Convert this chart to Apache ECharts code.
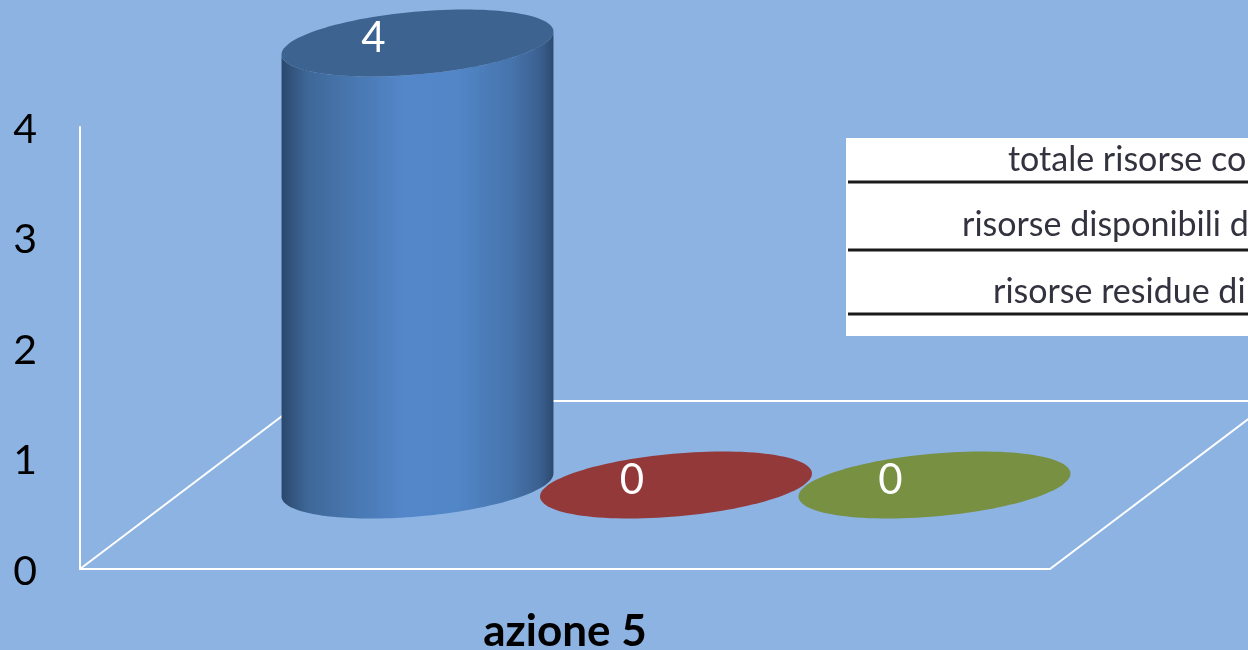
<!DOCTYPE html>
<html>
<head>
<meta charset="utf-8">
<script src="https://cdn.jsdelivr.net/npm/echarts@6/dist/echarts.min.js"></script>
<style>
html, body { margin: 0; padding: 0; background: #8db3e2; overflow: hidden; }
#main { width: 1248px; height: 650px; }
</style>
</head>
<body>
<div id="main"></div>
<script>
var categories = ['azione 5'];
var yTicks = [0, 1, 2, 3, 4];
var seriesNames = ['totale risorse co', 'risorse disponibili d', 'risorse residue di'];
var valuesA = [4];
var valuesB = [0];
var valuesC = [0];
var seriesValues = [valuesA, valuesB, valuesC];
var topColors = ['#3d6391', '#93393a', '#779042'];

var font = 'Lato, "Open Sans", sans-serif';
var depth = [222, -168]; // floor depth in pixels

function ellipsePts(cx, cy, a, b, rot, from, to, n) {
    var pts = [];
    for (var i = 0; i <= n; i++) {
        var t = from + (to - from) * i / n;
        pts.push([
            cx + a * Math.cos(t) * Math.cos(rot) + b * Math.sin(t) * Math.sin(rot),
            cy - a * Math.cos(t) * Math.sin(rot) + b * Math.sin(t) * Math.cos(rot)
        ]);
    }
    return pts;
}

function renderCylinder(params, api) {
    var idx = params.seriesIndex - 1;
    var w = api.size([1, 0])[0];
    var top = api.coord([api.value(0), api.value(1)]);
    var base = api.coord([api.value(0), 0]);
    // bars sit halfway back on the floor
    var cx = top[0] + (idx - 1) * w * 0.2665 + depth[0] / 2;
    var cyTop = top[1] + depth[1] / 2;
    var cyBase = base[1] + depth[1] / 2;
    var a = w * 0.1407, b = a * 0.23, rot = 5.1 * Math.PI / 180;
    var children = [];

    if (api.value(1) > 0) {
        var tR = Math.atan2(b * Math.sin(rot), a * Math.cos(rot));
        var bottom = ellipsePts(cx, cyBase, a, b, rot, tR, tR + Math.PI, 80);
        var upper = ellipsePts(cx, cyTop, a, b, rot, tR + Math.PI, tR, 80);
        children.push({
            type: 'polygon',
            shape: { points: bottom.concat(upper) },
            style: {
                fill: new echarts.graphic.LinearGradient(0, 0, 1, 0, [
                    { offset: 0, color: '#2b486c' },
                    { offset: 0.1, color: '#3f6899' },
                    { offset: 0.3, color: '#4a7ab5' },
                    { offset: 0.45, color: '#5487ca' },
                    { offset: 0.65, color: '#5186c7' },
                    { offset: 0.85, color: '#4673ab' },
                    { offset: 0.95, color: '#3b6090' },
                    { offset: 1, color: '#2c4a6f' }
                ])
            }
        });
    }
    children.push({
        type: 'polygon',
        shape: { points: ellipsePts(cx, cyTop, a, b, rot, 0, Math.PI * 2, 120) },
        style: { fill: topColors[idx] }
    });
    children.push({
        type: 'text',
        style: {
            text: String(api.value(1)),
            x: cx - 44,
            y: cyTop - 5,
            fill: '#fff',
            fontFamily: font,
            fontSize: 42,
            align: 'center',
            verticalAlign: 'middle'
        }
    });
    return { type: 'group', children: children };
}

function renderFloor(params, api) {
    var o = api.coord([api.value(0), 0]);
    var w = api.size([1, 0])[0];
    var x0 = o[0] - w / 2, x1 = o[0] + w / 2, y = o[1];
    var style = { stroke: '#fff', lineWidth: 2, fill: null };
    function seg(x1a, y1a, x2a, y2a) {
        return { type: 'line', shape: { x1: x1a, y1: y1a, x2: x2a, y2: y2a }, style: style };
    }
    return {
        type: 'group',
        children: [
            seg(x0, y, x0 + depth[0], y + depth[1]),
            seg(x1, y, x1 + depth[0], y + depth[1]),
            seg(x0 + depth[0], y + depth[1], x1 + depth[0], y + depth[1])
        ]
    };
}

var series = [{
    type: 'custom',
    name: 'floor',
    renderItem: renderFloor,
    clip: false,
    silent: true,
    data: categories.map(function (c) { return [c, 0]; }),
    z: 1
}];
seriesNames.forEach(function (name, i) {
    series.push({
        type: 'custom',
        name: name,
        renderItem: renderCylinder,
        clip: false,
        data: categories.map(function (c, j) { return [c, seriesValues[i][j]]; }),
        encode: { x: 0, y: 1 },
        z: 2 + i
    });
});

// legend box runs off the right edge of the picture, as in the original
var legendLines = [182, 250, 314];
var legendText = [160, 225, 292];
var legendLeft = [1008, 962, 993];
var legendGraphic = [{
    type: 'rect',
    shape: { x: 846, y: 138, width: 402, height: 198 },
    style: { fill: '#fff' },
    z: 10
}];
seriesNames.forEach(function (name, i) {
    legendGraphic.push({
        type: 'line',
        shape: { x1: 848, y1: legendLines[i], x2: 1248, y2: legendLines[i] },
        style: { stroke: '#1a1a1a', lineWidth: 3 },
        z: 11
    });
    legendGraphic.push({
        type: 'text',
        style: {
            text: name,
            x: legendLeft[i],
            y: legendText[i],
            fill: '#33333f',
            fontFamily: font,
            fontSize: 34,
            verticalAlign: 'middle'
        },
        z: 11
    });
});

var chart = echarts.init(document.getElementById('main'));
chart.setOption({
    backgroundColor: '#8db3e2',
    animation: false,
    grid: { left: 80, right: 198, top: 127, bottom: 81, containLabel: false, outerBoundsMode: 'none' },
    xAxis: {
        type: 'category',
        data: categories,
        axisLine: { lineStyle: { color: '#fff', width: 2 } },
        axisTick: { show: false },
        axisLabel: {
            color: '#000',
            fontFamily: font,
            fontSize: 44,
            fontWeight: 'bold',
            margin: 41
        }
    },
    yAxis: {
        type: 'value',
        min: yTicks[0],
        max: yTicks[yTicks.length - 1],
        interval: 1,
        axisLine: { show: true, lineStyle: { color: '#fff', width: 2 } },
        axisTick: { show: false },
        splitLine: { show: false },
        axisLabel: {
            color: '#000',
            fontFamily: font,
            fontSize: 41,
            margin: 43,
            verticalAlign: 'top',
            lineHeight: 5
        }
    },
    graphic: legendGraphic,
    series: series
});
</script>
</body>
</html>
